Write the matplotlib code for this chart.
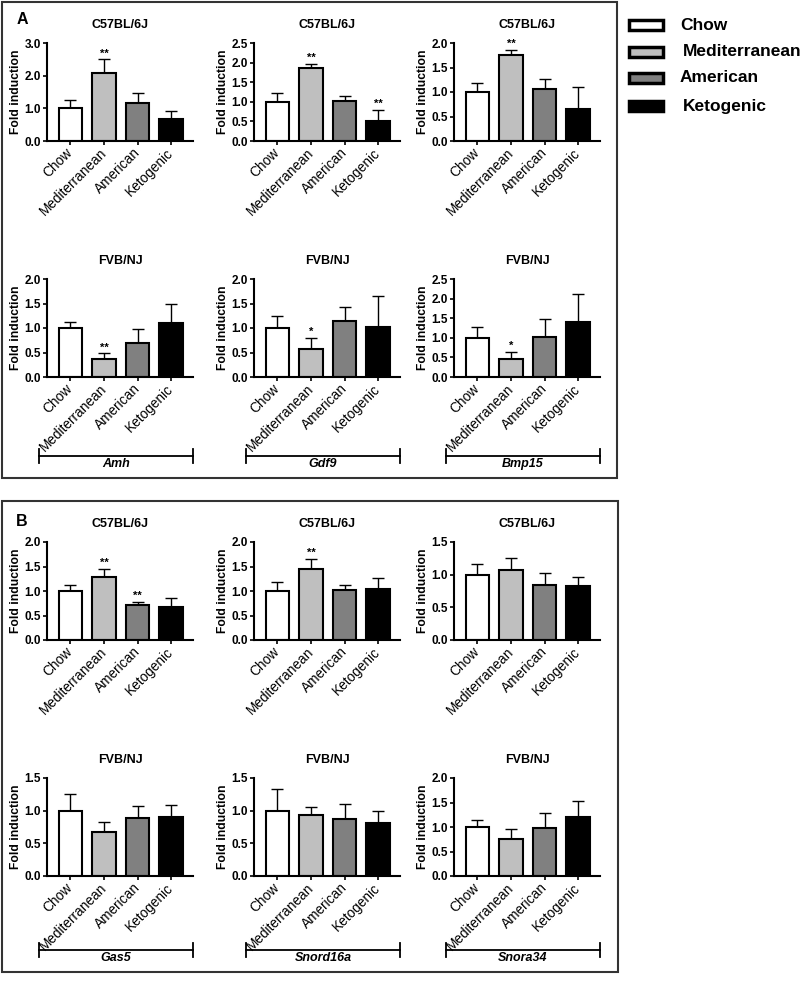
import numpy as np
import matplotlib
matplotlib.use('Agg')
import matplotlib.pyplot as plt
from matplotlib.patches import Rectangle

plt.rcParams['font.family'] = ['Liberation Sans', 'DejaVu Sans']

# ── DATA ─────────────────────────────────────────────────────────
diets  = ['Chow', 'Mediterranean', 'American', 'Ketogenic']
colors = ['#ffffff', '#bfbfbf', '#808080', '#000000']

# panel A - C57BL/6J
amh_c57       = [1.00, 2.08, 1.17, 0.67]
amh_c57_err   = [0.25, 0.42, 0.30, 0.25]
gdf9_c57      = [1.00, 1.87, 1.02, 0.52]
gdf9_c57_err  = [0.23, 0.10, 0.14, 0.27]
bmp15_c57     = [0.99, 1.75, 1.06, 0.65]
bmp15_c57_err = [0.20, 0.11, 0.21, 0.45]
# panel A - FVB/NJ
amh_fvb       = [1.00, 0.36, 0.69, 1.11]
amh_fvb_err   = [0.12, 0.12, 0.29, 0.37]
gdf9_fvb      = [1.00, 0.58, 1.15, 1.03]
gdf9_fvb_err  = [0.24, 0.22, 0.27, 0.63]
bmp15_fvb     = [0.99, 0.47, 1.03, 1.40]
bmp15_fvb_err = [0.29, 0.16, 0.45, 0.72]
# panel B - C57BL/6J
gas5_c57       = [1.00, 1.29, 0.71, 0.68]
gas5_c57_err   = [0.12, 0.16, 0.06, 0.17]
snord_c57      = [1.00, 1.44, 1.02, 1.05]
snord_c57_err  = [0.19, 0.21, 0.11, 0.21]
snora_c57      = [0.99, 1.07, 0.84, 0.82]
snora_c57_err  = [0.18, 0.19, 0.18, 0.15]
# panel B - FVB/NJ
gas5_fvb       = [0.99, 0.68, 0.89, 0.90]
gas5_fvb_err   = [0.27, 0.15, 0.18, 0.19]
snord_fvb      = [1.00, 0.93, 0.88, 0.81]
snord_fvb_err  = [0.33, 0.13, 0.22, 0.18]
snora_fvb      = [0.99, 0.76, 0.97, 1.21]
snora_fvb_err  = [0.16, 0.19, 0.32, 0.32]

genes_a = ['Amh', 'Gdf9', 'Bmp15']
genes_b = ['Gas5', 'Snord16a', 'Snora34']

# (values, errors, stars, ymax, tick step, title)
panels = [
    (amh_c57,   amh_c57_err,   ['', '**', '', ''],   3.0, 1.0, 'C57BL/6J'),
    (gdf9_c57,  gdf9_c57_err,  ['', '**', '', '**'], 2.5, 0.5, 'C57BL/6J'),
    (bmp15_c57, bmp15_c57_err, ['', '**', '', ''],   2.0, 0.5, 'C57BL/6J'),
    (amh_fvb,   amh_fvb_err,   ['', '**', '', ''],   2.0, 0.5, 'FVB/NJ'),
    (gdf9_fvb,  gdf9_fvb_err,  ['', '*', '', ''],    2.0, 0.5, 'FVB/NJ'),
    (bmp15_fvb, bmp15_fvb_err, ['', '*', '', ''],    2.5, 0.5, 'FVB/NJ'),
    (gas5_c57,  gas5_c57_err,  ['', '**', '**', ''], 2.0, 0.5, 'C57BL/6J'),
    (snord_c57, snord_c57_err, ['', '**', '', ''],   2.0, 0.5, 'C57BL/6J'),
    (snora_c57, snora_c57_err, ['', '', '', ''],     1.5, 0.5, 'C57BL/6J'),
    (gas5_fvb,  gas5_fvb_err,  ['', '', '', ''],     1.5, 0.5, 'FVB/NJ'),
    (snord_fvb, snord_fvb_err, ['', '', '', ''],     1.5, 0.5, 'FVB/NJ'),
    (snora_fvb, snora_fvb_err, ['', '', '', ''],     2.0, 0.5, 'FVB/NJ'),
]

# ── LAYOUT (pixels) ──────────────────────────────────────────────
W, H = 800, 981
col_x  = [47, 254, 454]
row_y  = [43, 279, 542, 778]   # top of each axes row
ax_w, ax_h = 146, 98

fig = plt.figure(figsize=(W / 100, H / 100), dpi=100)
fig.patch.set_facecolor('white')

# overlay in pixel coords for boxes, legend, brackets
bg = fig.add_axes([0, 0, 1, 1])
bg.set_xlim(0, W)
bg.set_ylim(H, 0)
bg.axis('off')

def px_axes(x0, y0):
    return fig.add_axes([x0 / W, 1 - (y0 + ax_h) / H, ax_w / W, ax_h / H])

x = np.arange(len(diets))
for i, (vals, errs, stars, ymax, step, title) in enumerate(panels):
    ax = px_axes(col_x[i % 3], row_y[i // 3])
    ax.bar(x, vals, width=0.7, color=colors, edgecolor='black',
           linewidth=1.5, zorder=2)
    ax.errorbar(x, vals, yerr=[np.zeros(4), errs], fmt='none',
                ecolor='black', elinewidth=1, capsize=4, capthick=1, zorder=1)
    for xi, v, e, s in zip(x, vals, errs, stars):
        if s:
            ax.text(xi, v + e + ymax * 0.01, s, ha='center', va='bottom',
                    fontsize=8, fontweight='bold')
    ax.set_xlim(-0.7, 3.65)
    ax.set_ylim(0, ymax)
    ticks = np.arange(0, ymax + 0.001, step)
    ax.set_yticks(ticks)
    ax.set_yticklabels([f'{t:.1f}' for t in ticks], fontsize=8.5, fontweight='bold')
    ax.set_xticks(x)
    ax.set_xticklabels(diets, rotation=45, ha='right', va='center',
                       rotation_mode='anchor', fontsize=9.8)
    ax.tick_params(axis='both', length=3, width=1.2, pad=1.5)
    ax.tick_params(axis='x', pad=4)
    for sp in ['top', 'right']:
        ax.spines[sp].set_visible(False)
    for sp in ['left', 'bottom']:
        ax.spines[sp].set_linewidth(1.5)
    ax.set_ylabel('Fold induction', fontsize=8.7, fontweight='bold')
    ax.yaxis.set_label_coords(-25 / ax_w, 0.5)
    ax.set_title(title, fontsize=9, fontweight='bold', pad=11)

# ── PANEL BOXES + LABELS ─────────────────────────────────────────
bg.add_patch(Rectangle((2, 2), 615, 476, fill=False, edgecolor='#333333', lw=1.5))
bg.add_patch(Rectangle((2, 501), 616, 471, fill=False, edgecolor='#333333', lw=1.5))
bg.text(22, 20, 'A', fontsize=11.5, fontweight='bold', ha='center', va='center')
bg.text(22, 521, 'B', fontsize=11.5, fontweight='bold', ha='center', va='center')

# gene brackets under the FVB rows
for genes, yl in [(genes_a, 456), (genes_b, 950)]:
    for cx, g in zip(col_x, genes):
        x0, x1 = cx - 8, cx + ax_w
        bg.plot([x0, x1], [yl, yl], color='black', lw=1.3)
        bg.plot([x0, x0], [yl - 7, yl + 7], color='black', lw=1.3)
        bg.plot([x1, x1], [yl - 7, yl + 7], color='black', lw=1.3)
        bg.text((x0 + x1) / 2, yl + 2, g, ha='center', va='top',
                fontsize=9, fontweight='bold', style='italic')

# ── LEGEND ───────────────────────────────────────────────────────
leg_y = [25, 52, 78, 106]
leg_tx = [680, 683, 680, 683]
for d, c, ly, tx in zip(diets, colors, leg_y, leg_tx):
    bg.add_patch(Rectangle((629, ly - 5), 34, 10, facecolor=c,
                           edgecolor='black', lw=2.5))
    bg.text(tx, ly, d, fontsize=12.5, fontweight='bold', va='center', ha='left')

plt.savefig('out.png', dpi=100, facecolor='white')
